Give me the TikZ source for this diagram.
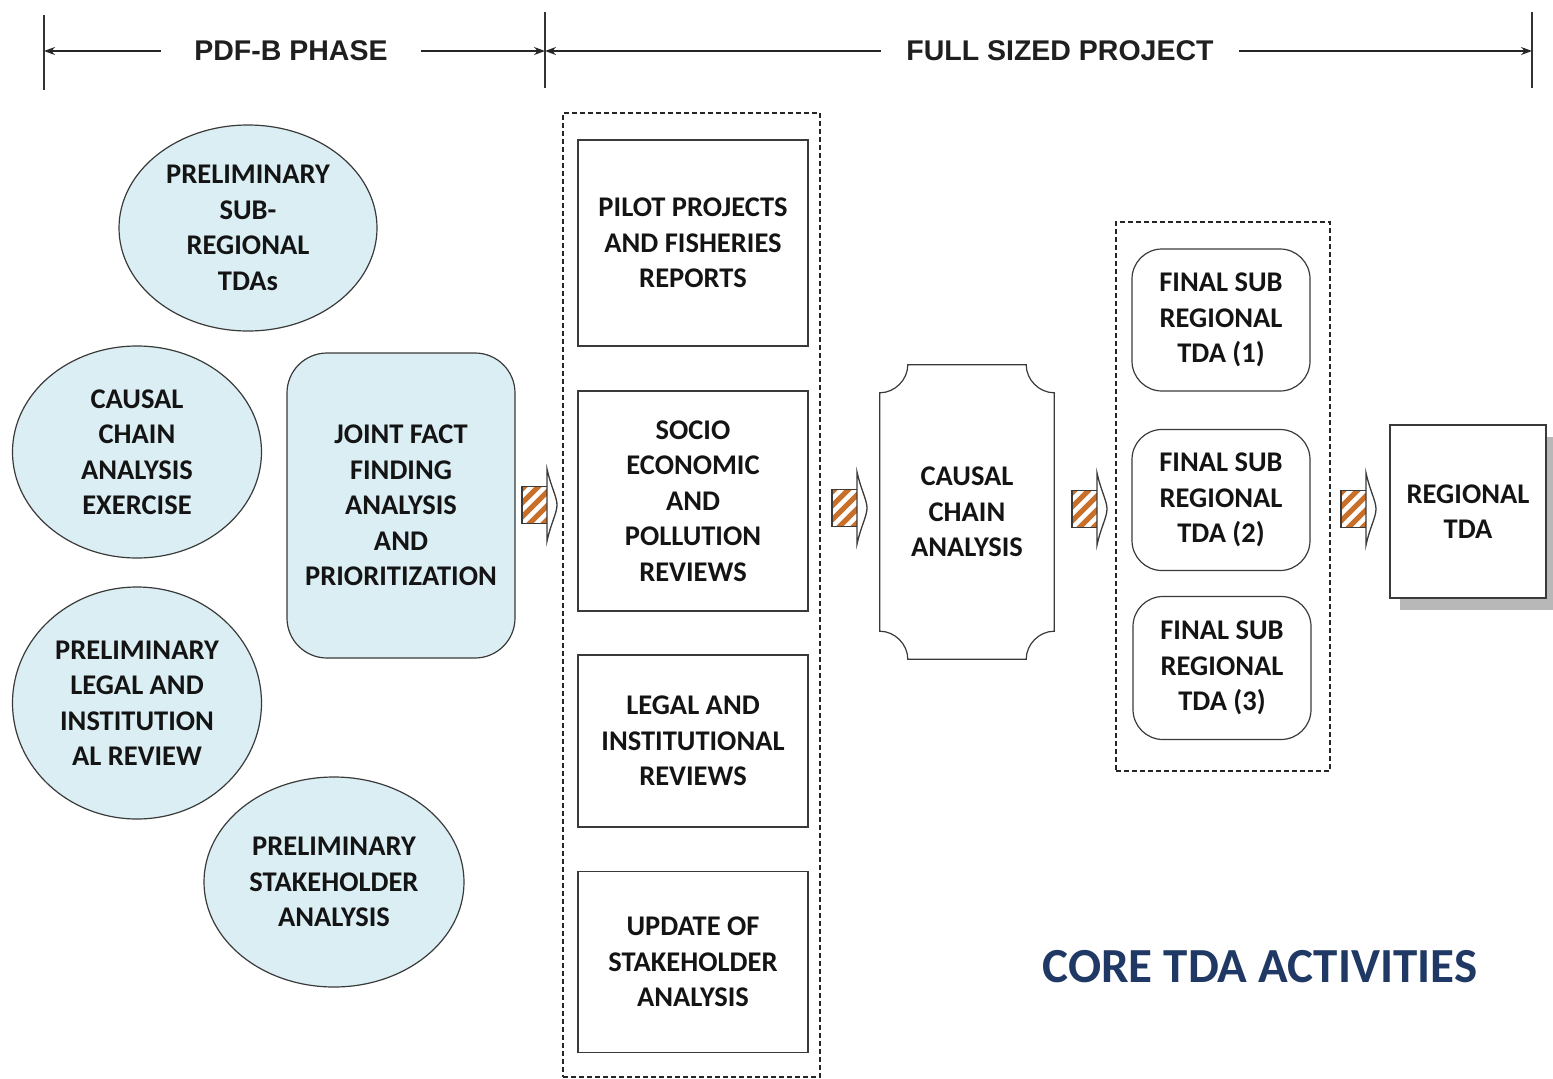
\documentclass[tikz,border=0pt]{standalone}
\usepackage{fontspec}
\setmainfont{Carlito}
\newfontfamily\hdrfont{Liberation Sans}
\usetikzlibrary{shapes.geometric,calc,arrows.meta,shadows}
\definecolor{bubfill}{HTML}{DAEEF3}
\definecolor{edge}{HTML}{3A3A3A}
\definecolor{stripe}{HTML}{C8702A}
\definecolor{titleblue}{HTML}{1F3864}
\begin{document}
\begin{tikzpicture}[x=1pt,y=-1pt,
  txt/.style={font=\bfseries\fontsize{28.5}{35.5}\selectfont, text=black!92, align=center, inner sep=0pt},
  bub/.style={ellipse, draw=edge, line width=1.2pt, fill=bubfill, txt},
  rbox/.style={rectangle, draw=edge, line width=1.2pt, txt},
  dbox/.style={rectangle, draw=black!85, line width=1.2pt, dash pattern=on 5pt off 3pt, inner sep=0pt},
  hdr/.style={font=\hdrfont\bfseries\fontsize{28.5}{34}\selectfont, text=black!88, inner ysep=0pt},
  harr/.style={line width=1.6pt, draw=black!85, -{Stealth[length=11pt,width=8pt]}},
  vline/.style={line width=1.5pt, draw=black!80},
  sarrow/.pic={
    \begin{scope}
      \clip (-26,-18.5) rectangle (0,18.5);
      \fill[white] (-26,-18.5) rectangle (0,18.5);
      \foreach \k in {-4,...,4} \draw[stripe, line width=5pt] (\k*14-30,30) -- (\k*14+30,-30);
    \end{scope}
    \draw[line width=1.3pt, draw=edge] (-26,-18.5) rectangle (0,18.5);
    \filldraw[fill=white, draw=edge, line width=1.3pt]
      (-1,-36) .. controls (3,-18) and (9,-8) .. (9,0)
      .. controls (9,8) and (3,18) .. (-1,36) -- cycle;
  }
]
\useasboundingbox (0,0) rectangle (1553,1079);

% ---------- header ----------
\draw[vline] (44,15) -- (44,90);
\draw[vline] (545,12) -- (545,88);
\draw[vline] (1532,12) -- (1532,88);
\coordinate (t1) at (44,51);
\coordinate (t2) at (545,51);
\coordinate (t3) at (1532,51);
\node[hdr, inner xsep=33pt] (pdf) at (291,51) {PDF-B PHASE};
\node[hdr, inner xsep=25pt] (fsp) at (1060,51) {FULL SIZED PROJECT};
\draw[harr] (pdf.west) -- (t1);
\draw[harr] (pdf.east) -- (t2);
\draw[harr] (fsp.west) -- (t2);
\draw[harr] (fsp.east) -- (t3);

% ---------- PDF-B phase ----------
\node[bub, minimum width=258pt, minimum height=206pt] (e1) at (248,228)
  {PRELIMINARY\\SUB-\\REGIONAL\\TDAs};
\node[bub, minimum width=249pt, minimum height=212pt] (e2) at (137,452)
  {CAUSAL\\CHAIN\\ANALYSIS\\EXERCISE};
\node[bub, minimum width=249pt, minimum height=232pt] (e3) at (137,703)
  {PRELIMINARY\\LEGAL AND\\INSTITUTION\\AL REVIEW};
\node[bub, minimum width=260pt, minimum height=210pt] (e4) at (334,882)
  {PRELIMINARY\\STAKEHOLDER\\ANALYSIS};
\node[rbox, fill=bubfill, rounded corners=40pt, minimum width=228pt, minimum height=305pt] (jf) at (401,505.5)
  {JOINT FACT\\FINDING\\ANALYSIS\\AND\\PRIORITIZATION};

% ---------- full sized project ----------
\node[dbox, minimum width=257pt, minimum height=964pt] (col1) at (691.5,595) {};
\node[rbox, minimum width=230pt, minimum height=206pt] (pp) at (693,243)
  {PILOT PROJECTS\\AND FISHERIES\\REPORTS};
\node[rbox, minimum width=230pt, minimum height=220pt] (se) at (693,501)
  {SOCIO\\ECONOMIC\\AND\\POLLUTION\\REVIEWS};
\node[rbox, minimum width=230pt, minimum height=172pt] (li) at (693,741)
  {LEGAL AND\\INSTITUTIONAL\\REVIEWS};
\node[rbox, minimum width=230pt, minimum height=181pt] (us) at (693,962)
  {UPDATE OF\\STAKEHOLDER\\ANALYSIS};

\node[txt, minimum width=174pt, minimum height=294pt] (cca) at (967,512) {CAUSAL\\CHAIN\\ANALYSIS};
\draw[draw=edge, line width=1.2pt]
  ($(cca.north west)+(28,0)$) -- ($(cca.north east)+(-28,0)$)
  .. controls ($(cca.north east)+(-28,15)$) and ($(cca.north east)+(-15,28)$) .. ($(cca.north east)+(0,28)$)
  -- ($(cca.south east)+(0,-28)$)
  .. controls ($(cca.south east)+(-15,-28)$) and ($(cca.south east)+(-28,-15)$) .. ($(cca.south east)+(-28,0)$)
  -- ($(cca.south west)+(28,0)$)
  .. controls ($(cca.south west)+(28,-15)$) and ($(cca.south west)+(15,-28)$) .. ($(cca.south west)+(0,-28)$)
  -- ($(cca.north west)+(0,28)$)
  .. controls ($(cca.north west)+(15,28)$) and ($(cca.north west)+(28,15)$) .. cycle;

\node[dbox, minimum width=214pt, minimum height=549pt] (col2) at (1223,496.5) {};
\node[rbox, rounded corners=30pt, minimum width=178pt, minimum height=142pt] (f1) at (1221,320)
  {FINAL SUB\\REGIONAL\\TDA (1)};
\node[rbox, rounded corners=30pt, minimum width=178pt, minimum height=141pt] (f2) at (1221,500)
  {FINAL SUB\\REGIONAL\\TDA (2)};
\node[rbox, rounded corners=30pt, minimum width=178pt, minimum height=143pt] (f3) at (1222,668)
  {FINAL SUB\\REGIONAL\\TDA (3)};

\node[rbox, fill=white, minimum width=156pt, minimum height=173pt,
  drop shadow={shadow xshift=10pt, shadow yshift=-12pt, fill=black!28, opacity=1}] (reg) at (1468,511.5)
  {REGIONAL\\TDA};

% ---------- block arrows ----------
\pic at (548,505) {sarrow};
\pic at (858,508) {sarrow};
\pic at (1098,509) {sarrow};
\pic at (1367,509) {sarrow};

% ---------- title ----------
\node[font=\bfseries\fontsize{49}{56}\selectfont, text=titleblue, inner sep=0pt] (title) at (1260,967)
  {CORE TDA ACTIVITIES};
\end{tikzpicture}
\end{document}
